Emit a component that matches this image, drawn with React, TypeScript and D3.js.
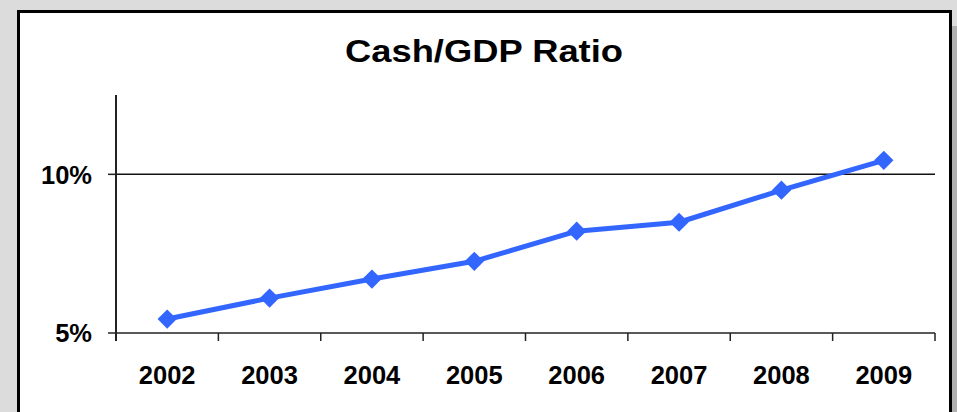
import React from "react";
import * as d3 from "d3";

const years = ["2002", "2003", "2004", "2005", "2006", "2007", "2008", "2009"];
const ratio = [5.44, 6.1, 6.7, 7.26, 8.21, 8.49, 9.5, 10.44];
const yTicks = [5, 10];
const title = "Cash/GDP Ratio";

const W = 957;
const H = 412;
const left = 116;
const right = 935;
const top = 95;
const bottom = 333;
const blue = "#3366ff";
const font = "'Liberation Sans', Arial, sans-serif";

export default function App() {
  const x = d3.scaleBand<string>().domain(years).range([left, right]).padding(0);
  const y = d3.scaleLinear().domain([5, 12.5]).range([bottom, top]);
  const line = d3
    .line<number>()
    .x((_, i) => (x(years[i]) as number) + x.bandwidth() / 2)
    .y((d) => y(d));
  const boundaries = years.map((yr) => x(yr) as number).concat([right]);
  const diamond = d3.symbol().type(d3.symbolSquare).size(185)();

  return (
    <svg
      width={W}
      height={H}
      style={{ position: "absolute", left: 0, top: 0, display: "block" }}
    >
      <rect x={0} y={0} width={W} height={H} fill="#dcdcdc" />
      <rect x={952} y={26} width={5} height={H} fill="#b0b0b0" />
      <rect x={18.5} y={11.5} width={932} height={430} fill="#fff" stroke="#000" strokeWidth={3} />
      <text
        x={484}
        y={62}
        textAnchor="middle"
        fontFamily={font}
        fontWeight="bold"
        fontSize={31.5}
        textLength={278}
        lengthAdjust="spacingAndGlyphs"
        fill="#000"
      >
        {title}
      </text>
      {yTicks
        .filter((t) => t !== 5)
        .map((t) => (
          <line key={"g" + t} x1={left} x2={right} y1={y(t)} y2={y(t)} stroke="#111" strokeWidth={1.5} />
        ))}
      <line x1={left} x2={left} y1={top} y2={bottom + 8} stroke="#222" strokeWidth={2} />
      {yTicks.map((t) => (
        <g key={"y" + t}>
          <line x1={left - 8} x2={left} y1={y(t)} y2={y(t)} stroke="#222" strokeWidth={1.5} />
          <text
            x={92}
            y={y(t)}
            dy="0.36em"
            textAnchor="end"
            fontFamily={font}
            fontWeight="bold"
            fontSize={25.5}
            fill="#000"
          >
            {t + "%"}
          </text>
        </g>
      ))}
      <line x1={left} x2={right} y1={bottom} y2={bottom} stroke="#222" strokeWidth={1.5} />
      {boundaries.map((b, i) => (
        <line key={"xt" + i} x1={b} x2={b} y1={bottom} y2={bottom + 8} stroke="#222" strokeWidth={1.5} />
      ))}
      {years.map((yr) => (
        <text
          key={"xl" + yr}
          x={(x(yr) as number) + x.bandwidth() / 2}
          y={384}
          textAnchor="middle"
          fontFamily={font}
          fontWeight="bold"
          fontSize={25.5}
          fill="#000"
        >
          {yr}
        </text>
      ))}
      <path d={line(ratio) || ""} fill="none" stroke={blue} strokeWidth={5} strokeLinejoin="round" />
      {ratio.map((v, i) => (
        <path
          key={"m" + i}
          d={diamond || ""}
          transform={`translate(${(x(years[i]) as number) + x.bandwidth() / 2},${y(v)}) rotate(45)`}
          fill={blue}
        />
      ))}
    </svg>
  );
}
